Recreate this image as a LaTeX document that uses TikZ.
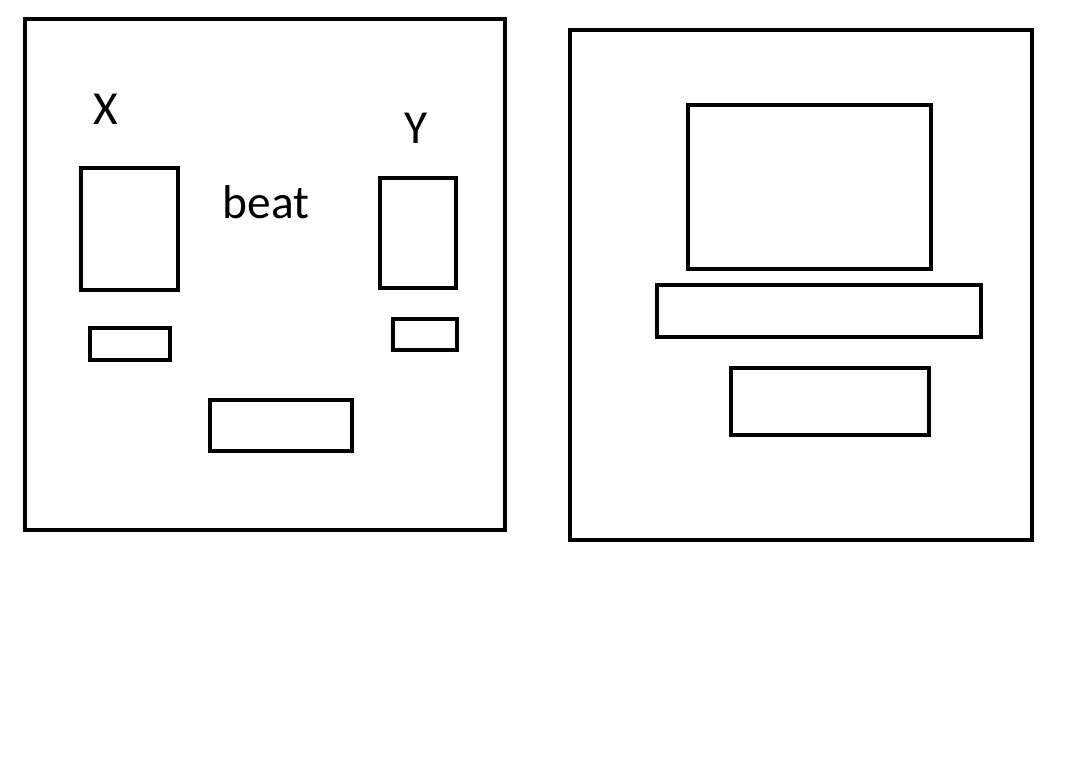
\documentclass[tikz,border=0pt]{standalone}
\usepackage{fontspec}
\setmainfont{Carlito}
\begin{document}
\begin{tikzpicture}[x=1cm,y=-1cm,line width=1.2pt]
\tikzset{lbl/.style={anchor=base,inner sep=0pt,font=\fontsize{13.5}{16}\selectfont}}
\useasboundingbox (0,0) rectangle (10.65,7.68);
% left panel
\draw (0.25,0.19) rectangle (5.05,5.30);
\draw (0.81,1.68) rectangle (1.78,2.90);
\draw (0.90,3.28) rectangle (1.70,3.60);
\draw (2.10,4.00) rectangle (3.52,4.51);
\draw (3.80,1.78) rectangle (4.56,2.88);
\draw (3.93,3.19) rectangle (4.57,3.50);
\node[lbl] (labelX) at (1.055,1.24) {X};
\node[lbl] (labelY) at (4.16,1.43) {Y};
\node[lbl] (beat) at (2.66,2.18) {beat};
% right panel
\draw (5.70,0.30) rectangle (10.32,5.40);
\draw (6.88,1.05) rectangle (9.31,2.69);
\draw (6.57,2.85) rectangle (9.81,3.37);
\draw (7.31,3.68) rectangle (9.29,4.35);
\end{tikzpicture}
\end{document}
